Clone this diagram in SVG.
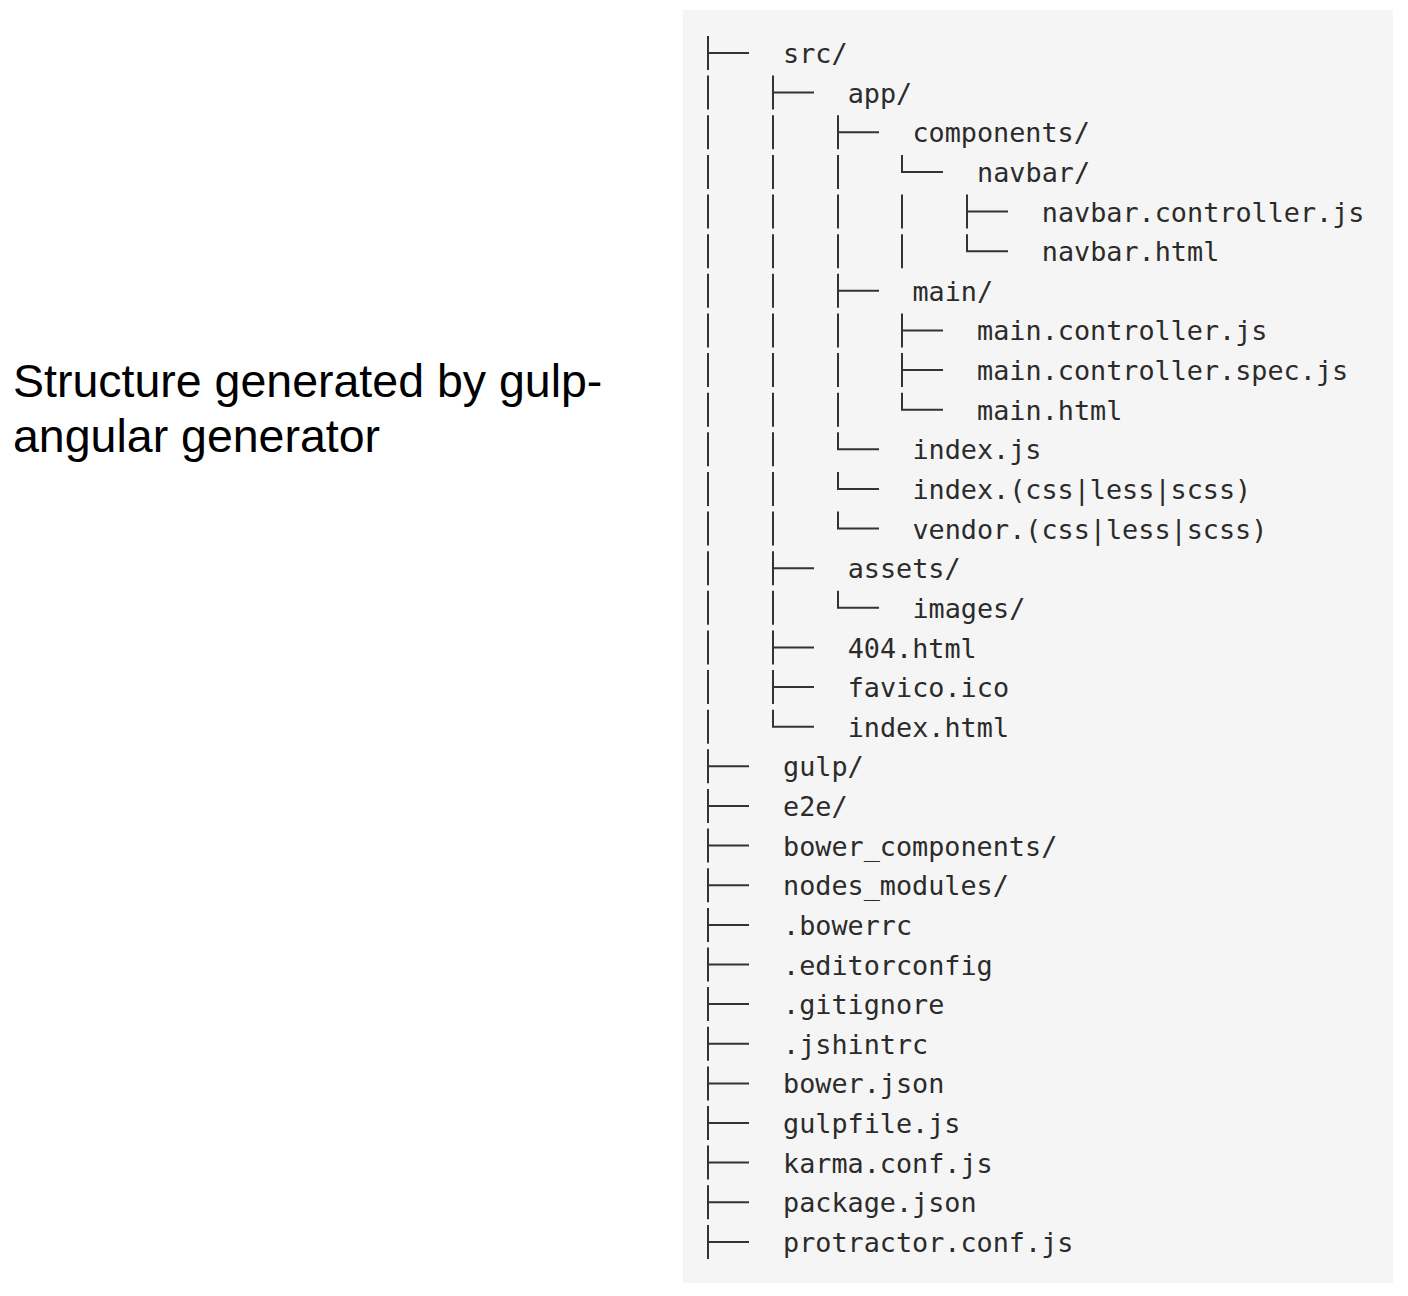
<svg xmlns="http://www.w3.org/2000/svg" width="1408" height="1296" viewBox="0 0 1408 1296">
<style>
.t{font-family:"DejaVu Sans Mono","Liberation Mono",monospace;font-size:26.8px;fill:#2b2b2b}
.cap{font-family:"Liberation Sans",Arial,sans-serif;font-size:46.5px;fill:#000}
.c{fill:none;stroke:#333;stroke-width:2}
</style>
<defs>
<path id="tee" class="c" d="M0,-17V17M0,0H41"/>
<path id="bar" class="c" d="M0,-17V17"/>
<path id="elb" class="c" d="M0,-17V0H41"/>
</defs>
<rect width="1408" height="1296" fill="#fff"/>
<rect x="683" y="10" width="710" height="1273" fill="#f5f5f5"/>
<g id="caption">
<text class="cap" x="13" y="397">Structure generated by gulp-</text>
<text class="cap" x="13" y="452">angular generator</text>
</g>
<g id="connectors">
<use href="#tee" x="708" y="53"/>
<use href="#bar" x="708" y="92.6"/><use href="#tee" x="773" y="92.6"/>
<use href="#bar" x="708" y="132.3"/><use href="#bar" x="773" y="132.3"/><use href="#tee" x="838" y="132.3"/>
<use href="#bar" x="708" y="171.9"/><use href="#bar" x="773" y="171.9"/><use href="#bar" x="838" y="171.9"/><use href="#elb" x="902" y="171.9"/>
<use href="#bar" x="708" y="211.5"/><use href="#bar" x="773" y="211.5"/><use href="#bar" x="838" y="211.5"/><use href="#bar" x="902" y="211.5"/><use href="#tee" x="967" y="211.5"/>
<use href="#bar" x="708" y="251.2"/><use href="#bar" x="773" y="251.2"/><use href="#bar" x="838" y="251.2"/><use href="#bar" x="902" y="251.2"/><use href="#elb" x="967" y="251.2"/>
<use href="#bar" x="708" y="290.8"/><use href="#bar" x="773" y="290.8"/><use href="#tee" x="838" y="290.8"/>
<use href="#bar" x="708" y="330.4"/><use href="#bar" x="773" y="330.4"/><use href="#bar" x="838" y="330.4"/><use href="#tee" x="902" y="330.4"/>
<use href="#bar" x="708" y="370"/><use href="#bar" x="773" y="370"/><use href="#bar" x="838" y="370"/><use href="#tee" x="902" y="370"/>
<use href="#bar" x="708" y="409.7"/><use href="#bar" x="773" y="409.7"/><use href="#bar" x="838" y="409.7"/><use href="#elb" x="902" y="409.7"/>
<use href="#bar" x="708" y="449.3"/><use href="#bar" x="773" y="449.3"/><use href="#elb" x="838" y="449.3"/>
<use href="#bar" x="708" y="488.9"/><use href="#bar" x="773" y="488.9"/><use href="#elb" x="838" y="488.9"/>
<use href="#bar" x="708" y="528.6"/><use href="#bar" x="773" y="528.6"/><use href="#elb" x="838" y="528.6"/>
<use href="#bar" x="708" y="568.2"/><use href="#tee" x="773" y="568.2"/>
<use href="#bar" x="708" y="607.8"/><use href="#bar" x="773" y="607.8"/><use href="#elb" x="838" y="607.8"/>
<use href="#bar" x="708" y="647.5"/><use href="#tee" x="773" y="647.5"/>
<use href="#bar" x="708" y="687.1"/><use href="#tee" x="773" y="687.1"/>
<use href="#bar" x="708" y="726.7"/><use href="#elb" x="773" y="726.7"/>
<use href="#tee" x="708" y="766.3"/>
<use href="#tee" x="708" y="806"/>
<use href="#tee" x="708" y="845.6"/>
<use href="#tee" x="708" y="885.2"/>
<use href="#tee" x="708" y="924.9"/>
<use href="#tee" x="708" y="964.5"/>
<use href="#tee" x="708" y="1004.1"/>
<use href="#tee" x="708" y="1043.8"/>
<use href="#tee" x="708" y="1083.4"/>
<use href="#tee" x="708" y="1123"/>
<use href="#tee" x="708" y="1162.6"/>
<use href="#tee" x="708" y="1202.3"/>
<use href="#tee" x="708" y="1241.9"/>
</g>
<g id="n-src"><text class="t" x="783" y="63">src/</text></g>
<g id="n-app"><text class="t" x="847.7" y="102.6">app/</text></g>
<g id="n-components"><text class="t" x="912.4" y="142.3">components/</text></g>
<g id="n-navbar"><text class="t" x="977.1" y="181.9">navbar/</text></g>
<g id="n-navbar-controller"><text class="t" x="1041.8" y="221.5">navbar.controller.js</text></g>
<g id="n-navbar-html"><text class="t" x="1041.8" y="261.2">navbar.html</text></g>
<g id="n-main"><text class="t" x="912.4" y="300.8">main/</text></g>
<g id="n-main-controller"><text class="t" x="977.1" y="340.4">main.controller.js</text></g>
<g id="n-main-spec"><text class="t" x="977.1" y="380">main.controller.spec.js</text></g>
<g id="n-main-html"><text class="t" x="977.1" y="419.7">main.html</text></g>
<g id="n-index-js"><text class="t" x="912.4" y="459.3">index.js</text></g>
<g id="n-index-css"><text class="t" x="912.4" y="498.9">index.(css|less|scss)</text></g>
<g id="n-vendor-css"><text class="t" x="912.4" y="538.6">vendor.(css|less|scss)</text></g>
<g id="n-assets"><text class="t" x="847.7" y="578.2">assets/</text></g>
<g id="n-images"><text class="t" x="912.4" y="617.8">images/</text></g>
<g id="n-404"><text class="t" x="847.7" y="657.5">404.html</text></g>
<g id="n-favico"><text class="t" x="847.7" y="697.1">favico.ico</text></g>
<g id="n-index-html"><text class="t" x="847.7" y="736.7">index.html</text></g>
<g id="n-gulp"><text class="t" x="783" y="776.3">gulp/</text></g>
<g id="n-e2e"><text class="t" x="783" y="816">e2e/</text></g>
<g id="n-bower-components"><text class="t" x="783" y="855.6">bower_components/</text></g>
<g id="n-nodes-modules"><text class="t" x="783" y="895.2">nodes_modules/</text></g>
<g id="n-bowerrc"><text class="t" x="783" y="934.9">.bowerrc</text></g>
<g id="n-editorconfig"><text class="t" x="783" y="974.5">.editorconfig</text></g>
<g id="n-gitignore"><text class="t" x="783" y="1014.1">.gitignore</text></g>
<g id="n-jshintrc"><text class="t" x="783" y="1053.8">.jshintrc</text></g>
<g id="n-bower-json"><text class="t" x="783" y="1093.4">bower.json</text></g>
<g id="n-gulpfile"><text class="t" x="783" y="1133">gulpfile.js</text></g>
<g id="n-karma"><text class="t" x="783" y="1172.6">karma.conf.js</text></g>
<g id="n-package"><text class="t" x="783" y="1212.3">package.json</text></g>
<g id="n-protractor"><text class="t" x="783" y="1251.9">protractor.conf.js</text></g>
</svg>
